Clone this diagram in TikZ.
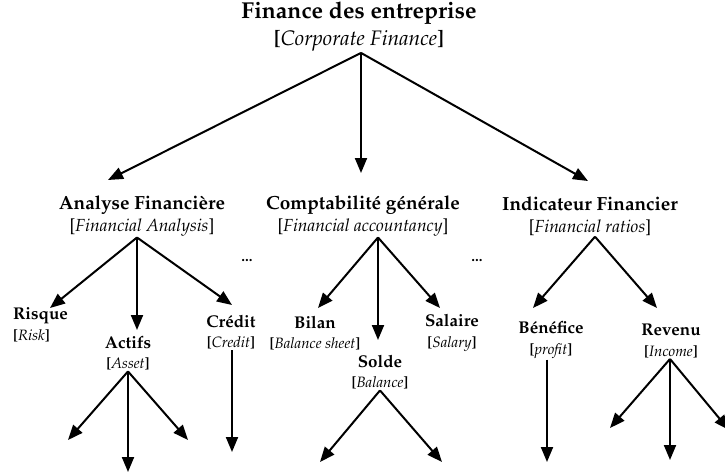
\documentclass[tikz,border=0pt]{standalone}
\usepackage[T1]{fontenc}
\usepackage{mathpazo}
\usetikzlibrary{arrows.meta}

\begin{document}
\begin{tikzpicture}[
  x=1pt, y=-1pt,
  >={Triangle[length=15pt,width=12pt]},
  ar/.style={->, line width=2pt},
  racine/.style={align=center, inner sep=1pt, font=\fontsize{23}{27}\selectfont},
  branche/.style={align=center, inner sep=1pt, font=\fontsize{19}{22}\selectfont},
  feuille/.style={align=center, inner sep=1pt, font=\fontsize{17}{20.5}\selectfont}
]
\useasboundingbox (0,0) rectangle (725,475);
% racine
\node[racine] (fin) at (359,27) {\textbf{Finance des entreprise}\\
  {\fontsize{21}{27}\selectfont\textbf{[}\textit{Corporate Finance}\textbf{]}}};
% niveau 1
\node[branche] (ana) at (142,216) {\textbf{Analyse Financi\`ere}\\
  {\fontsize{17.5}{22}\selectfont[\textit{Financial Analysis}]}};
\node[branche] (comp) at (363,216) {\textbf{Comptabilit\'e g\'en\'erale}\\
  {\fontsize{17.5}{22}\selectfont[\textit{Financial accountancy}]}};
\node[branche] (ind) at (590,216) {\textbf{Indicateur Financier}\\
  {\fontsize{17.5}{22}\selectfont[\textit{Financial ratios}]}};
\node[font=\fontsize{15}{18}\selectfont\bfseries] (p1) at (247,261) {...};
\node[font=\fontsize{15}{18}\selectfont\bfseries] (p2) at (477,261) {...};
% niveau 2
\node[feuille, align=left, anchor=west] (ris) at (12,325) {\textbf{Risque}\\
  {\fontsize{15}{20.5}\selectfont\textbf{[}\textit{Risk}\textbf{]}}};
\node[feuille] (act) at (128,353) {\textbf{Actifs}\\
  {\fontsize{15}{20.5}\selectfont\textbf{[}\textit{Asset}\textbf{]}}};
\node[feuille] (cred) at (231,332) {\textbf{Cr\'edit}\\
  {\fontsize{15}{20.5}\selectfont\textbf{[}\textit{Credit}\textbf{]}}};
\node[feuille] (bil) at (315,333) {\textbf{Bilan}\\
  {\fontsize{15}{20.5}\selectfont\textbf{[}\textit{Balance sheet}\textbf{]}}};
\node[feuille] (sol) at (380,372) {\textbf{Solde}\\
  {\fontsize{15}{20.5}\selectfont\textbf{[}\textit{Balance}\textbf{]}}};
\node[feuille] (sal) at (452,333) {\textbf{Salaire}\\
  {\fontsize{15}{20.5}\selectfont\textbf{[}\textit{Salary}\textbf{]}}};
\node[feuille] (ben) at (551,340) {\textbf{B\'en\'efice}\\
  {\fontsize{15}{20.5}\selectfont\textbf{[}\textit{profit}\textbf{]}}};
\node[feuille] (rev) at (671,341) {\textbf{Revenu}\\
  {\fontsize{15}{20.5}\selectfont\textbf{[}\textit{Income}\textbf{]}}};
% bouts des fleches
\coordinate (fa) at (108,180);
\coordinate (fc) at (361,173);
\coordinate (fi) at (588,181);
\coordinate (a1) at (50,308);
\coordinate (a2) at (137,330);
\coordinate (a3) at (232,305);
\coordinate (c1) at (318,308);
\coordinate (c2) at (378,340);
\coordinate (c3) at (440,308);
\coordinate (i1) at (533,308);
\coordinate (i2) at (657,308);
\coordinate (x1) at (68,440);
\coordinate (x2) at (128,472);
\coordinate (x3) at (188,440);
\coordinate (y1) at (232,452);
\coordinate (s1) at (320,462);
\coordinate (s2) at (442,462);
\coordinate (b1) at (547,462);
\coordinate (r1) at (610,428);
\coordinate (r2) at (670,460);
\coordinate (r3) at (729,430);
% fleches
\draw[ar] ([xshift=2pt]fin.south) -- (fa);
\draw[ar] ([xshift=2pt]fin.south) -- (fc);
\draw[ar] ([xshift=2pt]fin.south) -- (fi);
\draw[ar] ([xshift=-5pt]ana.south) -- (a1);
\draw[ar] ([xshift=-5pt]ana.south) -- (a2);
\draw[ar] ([xshift=-5pt]ana.south) -- (a3);
\draw[ar] ([xshift=15pt]comp.south) -- (c1);
\draw[ar] ([xshift=15pt]comp.south) -- (c2);
\draw[ar] ([xshift=15pt]comp.south) -- (c3);
\draw[ar] ([xshift=5pt]ind.south) -- (i1);
\draw[ar] ([xshift=5pt]ind.south) -- (i2);
\draw[ar] (act.south) -- (x1);
\draw[ar] (act.south) -- (x2);
\draw[ar] (act.south) -- (x3);
\draw[ar] ([xshift=1pt]cred.south) -- (y1);
\draw[ar] (sol.south) -- (s1);
\draw[ar] (sol.south) -- (s2);
\draw[ar] ([xshift=-4pt]ben.south) -- (b1);
\draw[ar] ([xshift=-1pt]rev.south) -- (r1);
\draw[ar] ([xshift=-1pt]rev.south) -- (r2);
\draw[ar] ([xshift=-1pt]rev.south) -- (r3);
\end{tikzpicture}
\end{document}
